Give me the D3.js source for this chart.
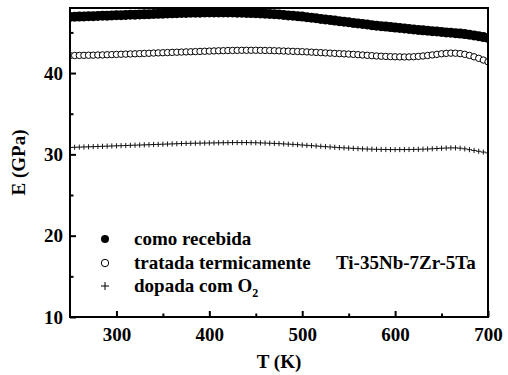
<!DOCTYPE html>
<html><head><meta charset="utf-8">
<script src="https://cdn.jsdelivr.net/npm/d3@7"></script>
<style>body{margin:0;background:#fff}svg{display:block}text{font-family:"Liberation Serif","Times New Roman",Times,"Tinos","DejaVu Serif",serif !important;font-weight:bold;fill:#000}</style>
</head><body><svg id="c" width="508" height="375"></svg>
<script>
const temps = d3.range(250, 701, 5);
const comoRecebida = [46.90,46.92,46.94,46.96,46.98,47.00,47.02,47.04,47.06,47.08,47.10,47.12,47.14,47.16,47.18,47.20,47.22,47.24,47.26,47.28,47.30,47.32,47.34,47.36,47.38,47.40,47.41,47.42,47.43,47.44,47.45,47.45,47.46,47.46,47.45,47.45,47.43,47.41,47.39,47.37,47.35,47.32,47.29,47.26,47.23,47.19,47.14,47.09,47.04,46.99,46.94,46.87,46.80,46.73,46.66,46.59,46.52,46.45,46.38,46.31,46.24,46.17,46.10,46.03,45.96,45.89,45.83,45.77,45.71,45.65,45.59,45.53,45.47,45.41,45.35,45.30,45.25,45.20,45.15,45.10,45.05,45.00,44.95,44.90,44.85,44.79,44.72,44.63,44.53,44.42,44.30];
const tratadaTermicamente = [42.15,42.16,42.17,42.18,42.19,42.20,42.22,42.23,42.25,42.27,42.29,42.31,42.33,42.35,42.37,42.39,42.41,42.43,42.46,42.48,42.50,42.52,42.54,42.56,42.58,42.60,42.62,42.64,42.66,42.68,42.70,42.72,42.74,42.75,42.77,42.78,42.79,42.80,42.80,42.80,42.80,42.79,42.78,42.77,42.75,42.73,42.71,42.69,42.67,42.65,42.63,42.60,42.57,42.54,42.51,42.48,42.45,42.42,42.39,42.36,42.33,42.30,42.26,42.22,42.18,42.14,42.10,42.07,42.04,42.02,42.00,41.99,41.98,41.99,42.01,42.05,42.10,42.16,42.23,42.30,42.37,42.42,42.45,42.44,42.39,42.30,42.17,42.00,41.81,41.60,41.38];
const dopadaO2 = [30.85,30.87,30.89,30.91,30.93,30.95,30.97,30.99,31.01,31.03,31.05,31.07,31.09,31.11,31.13,31.15,31.17,31.19,31.21,31.23,31.25,31.27,31.29,31.31,31.33,31.35,31.36,31.37,31.38,31.39,31.40,31.41,31.42,31.43,31.44,31.45,31.45,31.45,31.45,31.44,31.43,31.41,31.39,31.37,31.35,31.32,31.29,31.26,31.23,31.19,31.15,31.11,31.07,31.03,30.99,30.95,30.91,30.87,30.83,30.80,30.77,30.74,30.71,30.68,30.66,30.64,30.62,30.61,30.60,30.59,30.59,30.59,30.59,30.60,30.61,30.62,30.64,30.66,30.69,30.72,30.75,30.78,30.80,30.80,30.76,30.68,30.58,30.48,30.38,30.28,30.18];
const xTicks = [300, 400, 500, 600, 700];
const xMinor = [350, 450, 550, 650];
const yTicks = [10, 20, 30, 40];
const yMinor = [15, 25, 35, 45];
const legendLabels = ["como recebida", "tratada termicamente", "dopada com O"];
const sampleLabel = "Ti-35Nb-7Zr-5Ta";

const svg = d3.select("#c");
const L = 70, R = 488, T = 8, B = 317;
const FS = 19;
const x = d3.scaleLinear().domain([250, 700]).range([L, R]);
const y = d3.scaleLinear().domain([10, 48]).range([B, T]);

svg.append("clipPath").attr("id","clip").append("rect").attr("x",L).attr("y",T).attr("width",R-L).attr("height",B-T);
const plot = svg.append("g").attr("clip-path","url(#clip)");

plot.append("g").selectAll("circle").data(temps).join("circle")
  .attr("cx", (d)=>x(d)).attr("cy",(d,i)=>y(comoRecebida[i])).attr("r",5).attr("fill","#000");
plot.append("g").selectAll("circle").data(temps).join("circle")
  .attr("cx", (d)=>x(d)).attr("cy",(d,i)=>y(tratadaTermicamente[i])).attr("r",3.2)
  .attr("fill","#fff").attr("stroke","#000").attr("stroke-width",1);
const p = plot.append("g").attr("stroke","#000").attr("stroke-width",0.9);
temps.forEach((t,i)=>{
  const cx = x(t), cy = y(dopadaO2[i]);
  p.append("line").attr("x1",cx-2.6).attr("x2",cx+2.6).attr("y1",cy).attr("y2",cy);
  p.append("line").attr("x1",cx).attr("x2",cx).attr("y1",cy-2.6).attr("y2",cy+2.6);
});

const xAxis = d3.axisBottom(x).tickValues(xTicks).tickSizeInner(-6).tickSizeOuter(0).tickPadding(11).tickFormat(d3.format("d"));
const gx = svg.append("g").attr("transform",`translate(0,${B})`).call(xAxis).attr("font-family",null).attr("font-size",null);
gx.select(".domain").remove();
gx.selectAll(".tick line").attr("stroke-width",2);
gx.selectAll("text").attr("font-size",FS);
svg.append("g").attr("transform",`translate(0,${B})`).call(d3.axisBottom(x).tickValues(xMinor).tickSizeInner(-3.5).tickSizeOuter(0).tickFormat(""))
  .call(g=>{g.select(".domain").remove(); g.selectAll(".tick line").attr("stroke-width",2);});

const yAxis = d3.axisLeft(y).tickValues(yTicks).tickSizeInner(-6).tickSizeOuter(0).tickPadding(7).tickFormat(d3.format("d"));
const gy = svg.append("g").attr("transform",`translate(${L},0)`).call(yAxis).attr("font-family",null).attr("font-size",null);
gy.select(".domain").remove();
gy.selectAll(".tick line").attr("stroke-width",2);
gy.selectAll("text").attr("font-size",FS);
svg.append("g").attr("transform",`translate(${L},0)`).call(d3.axisLeft(y).tickValues(yMinor).tickSizeInner(-3.5).tickSizeOuter(0).tickFormat(""))
  .call(g=>{g.select(".domain").remove(); g.selectAll(".tick line").attr("stroke-width",2);});

svg.append("rect").attr("x",L).attr("y",T).attr("width",R-L).attr("height",B-T)
  .attr("fill","none").attr("stroke","#000").attr("stroke-width",2);

svg.append("text").attr("x",(L+R)/2).attr("y",368).attr("text-anchor","middle").attr("font-size",FS).text("T (K)");
svg.append("text").attr("transform",`translate(25,${(T+B)/2}) rotate(-90)`).attr("text-anchor","middle").attr("font-size",FS).text("E (GPa)");

const lx = 105, ly = [239, 263, 286];
svg.append("circle").attr("cx",lx).attr("cy",ly[0]).attr("r",4).attr("fill","#000");
svg.append("circle").attr("cx",lx).attr("cy",ly[1]).attr("r",3.7).attr("fill","#fff").attr("stroke","#000").attr("stroke-width",1);
svg.append("line").attr("x1",lx-4).attr("x2",lx+4).attr("y1",ly[2]).attr("y2",ly[2]).attr("stroke","#000").attr("stroke-width",1);
svg.append("line").attr("x1",lx).attr("x2",lx).attr("y1",ly[2]-4).attr("y2",ly[2]+4).attr("stroke","#000").attr("stroke-width",1);
legendLabels.forEach((lab,i)=>{
  const t = svg.append("text").attr("x",134).attr("y",ly[i]+6).attr("font-size",FS).text(lab);
  if(i===2) t.append("tspan").attr("font-size",12).attr("dy",5).text("2");
});
svg.append("text").attr("x",336).attr("y",ly[1]+6).attr("font-size",FS).text(sampleLabel);
</script></body></html>
